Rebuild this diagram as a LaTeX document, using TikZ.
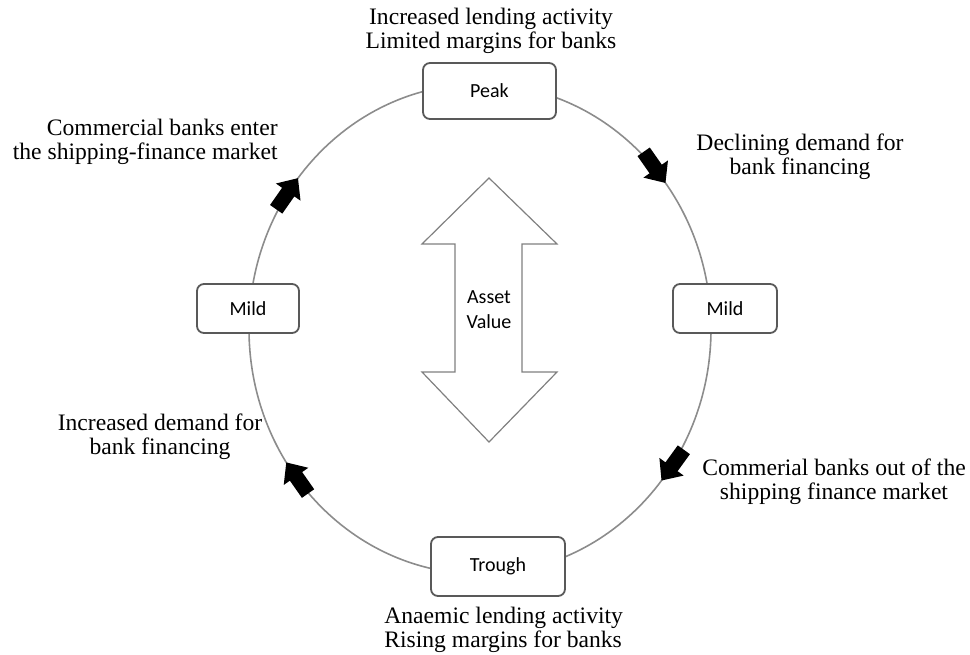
\documentclass[tikz,border=0pt]{standalone}
\usepackage{fontspec}
\setmainfont{Liberation Serif}
\newfontfamily\boxfont{Carlito}

\tikzset{
  cycleline/.style={draw=black!45, line width=0.8pt},
  phasebox/.style={draw=black!65, line width=0.9pt, rounded corners=3.5pt, fill=white,
    font=\boxfont\fontsize{10}{12}\selectfont, inner sep=0pt},
  note/.style={font=\fontsize{11.8}{12}\selectfont, align=center, inner sep=0pt},
  valuearrow/.style={draw=black!50, line width=0.6pt, fill=white},
  % solid block arrow, tip at the origin, pointing along +x
  flowarrow/.pic={
    \fill[black] (0,0) -- (-17,15) -- (-17,7.5) -- (-38,7.5) -- (-38,-7.5)
      -- (-17,-7.5) -- (-17,-15) -- cycle;
  }
}

\begin{document}
\begin{tikzpicture}[x=0.5pt,y=0.5pt]
\useasboundingbox (0,0) rectangle (970,-654);

% the cycle
\coordinate (c) at (480,-329);
\draw[cycleline] (c) ellipse [x radius=231, y radius=245];

% clockwise direction markers on the cycle
\pic[rotate=-55]  at ([shift={(c)}] 36.6:231 and 245) {flowarrow};
\pic[rotate=-126] at ([shift={(c)}] -38.2:231 and 245) {flowarrow};
\pic[rotate=125]  at ([shift={(c)}] -147:231 and 245) {flowarrow};
\pic[rotate=55]   at ([shift={(c)}] 142:231 and 245) {flowarrow};

% phases of the cycle
\node[phasebox, minimum width=66.5pt, minimum height=28pt] (peak) at (489.5,-91) {Peak};
\node[phasebox, minimum width=51pt, minimum height=24.5pt] (mildL) at (248,-308.5) {Mild};
\node[phasebox, minimum width=52pt, minimum height=24.5pt] (mildR) at (725,-308.5) {Mild};
\node[phasebox, minimum width=67pt, minimum height=29.5pt] (trough) at (498,-566.5) {Trough};

% asset value double arrow
\draw[valuearrow] (489,-178) -- (557,-244) -- (522,-244) -- (522,-372) -- (557,-372)
  -- (489,-442) -- (422,-372) -- (455,-372) -- (455,-244) -- (422,-244) -- cycle;
\node[font=\boxfont\fontsize{10}{12.5}\selectfont, align=center, inner sep=0pt] (asset)
  at (489,-309.5) {Asset\\Value};

% descriptions of each phase
\node[note] (lend) at (491,-31) {Increased lending activity\\Limited margins for banks};
\node[note] (decl) at (800,-157) {Declining demand for\\bank financing};
\node[note, align=right, anchor=east] (enter) at (278,-142)
  {Commercial banks enter\\the shipping-finance market};
\node[note] (incr) at (160,-437) {Increased demand for\\bank financing};
\node[note] (out) at (834,-482) {Commerial banks out of the\\shipping finance market};
\node[note, align=left, anchor=west] (anaemic) at (384,-630)
  {Anaemic lending activity\\Rising margins for banks};
\end{tikzpicture}
\end{document}
